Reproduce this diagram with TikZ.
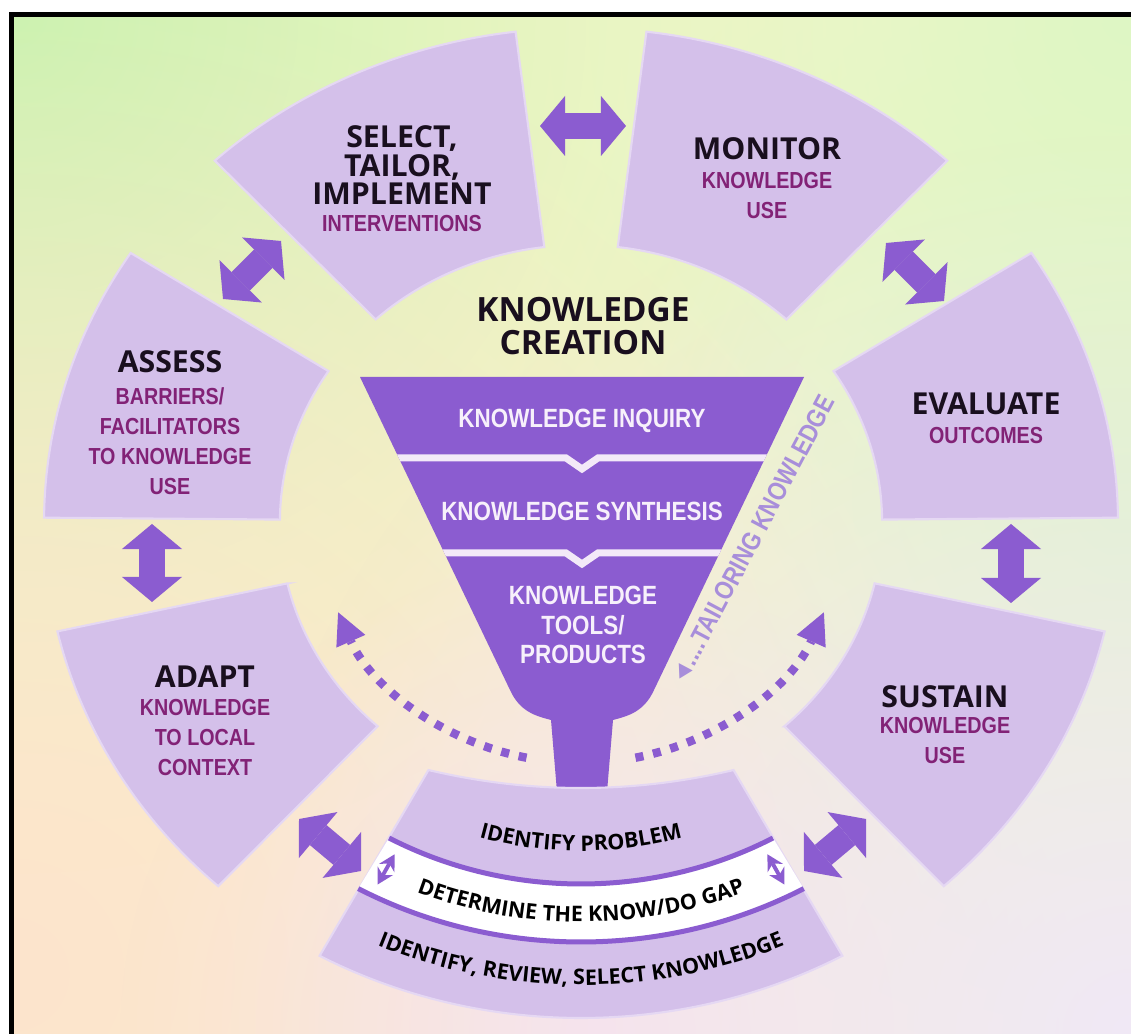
\documentclass[tikz,border=0pt]{standalone}
\usepackage{fontspec}
\setmainfont{Open Sans}
\newfontfamily\headfont{Open Sans}
\newfontfamily\narrowfont[FakeStretch=0.85]{Liberation Sans}
\usetikzlibrary{arrows.meta,decorations.text,fadings}
\definecolor{segfill}{RGB}{212,192,234}
\definecolor{segedge}{RGB}{229,216,243}
\definecolor{deeppurple}{RGB}{139,92,208}
\definecolor{subink}{RGB}{130,34,118}
\definecolor{titleink}{RGB}{25,15,30}
\definecolor{funnelink}{RGB}{247,240,251}
\definecolor{sepline}{RGB}{243,233,248}
\definecolor{tailorink}{RGB}{168,142,218}
\definecolor{bgcream}{RGB}{251,246,204}
\definecolor{bggreen}{RGB}{203,243,176}
\definecolor{bglime}{RGB}{222,247,196}
\definecolor{bgpeach}{RGB}{253,228,204}
\definecolor{bgpink}{RGB}{249,225,232}
\definecolor{bglilac}{RGB}{240,232,246}
\tikzfading[name=glow, inner color=transparent!0, outer color=transparent!100]
\newcommand{\ringkx}{1.087}
\newcommand{\bandfont}{\headfont\bfseries\fontsize{6.1}{7}\selectfont}
% one lavender piece of the ring: start angle, end angle, inner and outer radius
\newcommand{\ringsector}[4]{%
  \filldraw[seg] (#1:\ringkx*#3 and #3) -- (#1:\ringkx*#4 and #4)
    arc[start angle=#1, end angle=#2, x radius=\ringkx*#4, y radius=#4]
    -- (#2:\ringkx*#3 and #3)
    arc[start angle=#2, end angle=#1, x radius=\ringkx*#3, y radius=#3] -- cycle;}
\tikzset{
  seg/.style={fill=segfill, draw=segedge, line width=0.6pt},
  segtitle/.style={text=titleink, font=\headfont\bfseries\fontsize{8.6}{8.1}\selectfont,
    align=center, anchor=north, inner sep=0pt},
  segsub/.style={text=subink, font=\narrowfont\bfseries\fontsize{6.6}{8.5}\selectfont,
    align=center, anchor=north, inner sep=0pt},
  funneltxt/.style={text=funnelink, font=\narrowfont\bfseries\fontsize{7.5}{8.5}\selectfont,
    align=center, anchor=north, inner sep=0pt},
  blockarrow/.style={deeppurple, line width=0.26cm,
    {Triangle[length=0.25cm,width=0.6cm,line width=0pt]}-{Triangle[length=0.25cm,width=0.6cm,line width=0pt]}},
  dotarrow/.style={deeppurple, line width=2.4pt, dash pattern=on 2.3pt off 2.8pt,
    -{Triangle[length=9pt,width=9pt,line width=0pt]}},
  bandline/.style={deeppurple, line width=0.05cm},
  gaparrow/.style={deeppurple, line width=1.1pt,
    {Stealth[length=4.5pt,width=5pt,line width=0pt]}-{Stealth[length=4.5pt,width=5pt,line width=0pt]}},
  bandtext/.style={decorate, decoration={text along path, text align=center, text={#1}}}
}

\begin{document}
\begin{tikzpicture}[x=0.01cm, y=0.01cm]
\useasboundingbox (0,0) rectangle (1131,1034);

% soft wash behind everything
\begin{scope}
  \clip (12,0) rectangle (1131,1020);
  \fill[bgcream] (12,0) rectangle (1131,1020);
  \fill[bggreen, path fading=glow] (12,1020) circle (860);
  \fill[bglime, path fading=glow] (1131,540) circle (620);
  \fill[bglime, path fading=glow] (1131,1020) circle (640);
  \fill[bgpeach, path fading=glow] (12,60) circle (1000);
  \fill[bgpink, path fading=glow] (600,0) circle (480);
  \fill[bglilac, path fading=glow] (1131,0) circle (900);
\end{scope}
\draw[line width=0.055cm] (11.5,0) -- (11.5,1019.5) -- (1131,1019.5);

% RING: six pieces plus the wide one at the bottom
\begin{scope}[shift={(581,512)}]
  \ringsector{97}{133}{277}{494}
  \ringsector{47}{83}{277}{494}
  \ringsector{0.5}{33}{277}{494}
  \ringsector{147}{179.5}{277}{494}
  \ringsector{192.8}{227.5}{277}{494}
  \ringsector{-47.5}{-12.8}{277}{494}

  % dotted return arrows
  \coordinate (left-tail) at (258:\ringkx*241 and 241);
  \coordinate (right-tail) at (-78:\ringkx*241 and 241);
  \draw[dotarrow] (left-tail) arc[start angle=258, end angle=202, x radius=\ringkx*241, y radius=241];
  \draw[dotarrow] (right-tail) arc[start angle=-78, end angle=-22, x radius=\ringkx*241, y radius=241];
\end{scope}

% double arrows between the pieces
\coordinate (sm-a) at (540,908);  \coordinate (sm-b) at (626,908);
\coordinate (as-a) at (223,735);  \coordinate (as-b) at (281,793);
\coordinate (me-a) at (886,791);  \coordinate (me-b) at (944,733);
\coordinate (aa-a) at (152,510);  \coordinate (aa-b) at (152,432);
\coordinate (es-a) at (1011,510); \coordinate (es-b) at (1011,431);
\coordinate (ab-a) at (299,215);  \coordinate (ab-b) at (361,163);
\coordinate (bs-a) at (866,215);  \coordinate (bs-b) at (804,163);
\foreach \a in {sm,as,me,aa,es,ab,bs}
  \draw[blockarrow] (\a-a) -- (\a-b);

% FUNNEL
\coordinate (f-tl) at (360,657);
\coordinate (f-tr) at (804,657);
\coordinate (f-r) at (654,344);
\coordinate (f-sr) at (613,314);
\coordinate (f-br) at (607,242);
\coordinate (f-bl) at (557,242);
\coordinate (f-sl) at (551,314);
\coordinate (f-l) at (510,344);
\fill[deeppurple] (f-tl) -- (f-tr) -- (f-r) .. controls (644,322) and (628,318) .. (f-sr)
  -- (f-br) -- (f-bl) -- (f-sl) .. controls (536,318) and (520,322) .. (f-l) -- cycle;
\begin{scope}
  \clip (f-tl) -- (f-tr) -- (f-r) -- (f-l) -- cycle;
  \draw[sepline, line width=0.07cm] (340,576) -- (566,576) -- (582,565) -- (598,576) -- (820,576);
  \draw[sepline, line width=0.07cm] (340,481) -- (566,481) -- (582,470) -- (598,481) -- (820,481);
\end{scope}

% bottom piece with the know/do gap band
\begin{scope}[shift={(581,512)}]
  \filldraw[seg] (240.5:\ringkx*285 and 285) .. controls (-51,-272) and (51,-272) .. (299.5:\ringkx*285 and 285)
    -- (299:\ringkx*496 and 496) arc[start angle=299, end angle=241, x radius=\ringkx*496, y radius=496] -- cycle;
  \fill[white] (240.8:\ringkx*362 and 362) arc[start angle=240.8, end angle=299.2, x radius=\ringkx*362, y radius=362]
    -- (299.2:\ringkx*420 and 420) arc[start angle=299.2, end angle=240.8, x radius=\ringkx*420, y radius=420] -- cycle;
  \draw[bandline] (240.8:\ringkx*362 and 362) arc[start angle=240.8, end angle=299.2, x radius=\ringkx*362, y radius=362];
  \draw[bandline] (240.8:\ringkx*420 and 420) arc[start angle=240.8, end angle=299.2, x radius=\ringkx*420, y radius=420];
  \coordinate (gap-l1) at (242.7:\ringkx*374 and 374);
  \coordinate (gap-l2) at (242.7:\ringkx*408 and 408);
  \coordinate (gap-r1) at (297.3:\ringkx*374 and 374);
  \coordinate (gap-r2) at (297.3:\ringkx*408 and 408);
  \draw[gaparrow] (gap-l1) -- (gap-l2);
  \draw[gaparrow] (gap-r1) -- (gap-r2);
  \path[bandtext={|\bandfont|IDENTIFY PROBLEM}]
    (235:\ringkx*329 and 329) arc[start angle=235, end angle=305, x radius=\ringkx*329, y radius=329];
  \path[bandtext={|\bandfont|DETERMINE THE KNOW/DO GAP}]
    (236:\ringkx*400 and 400) arc[start angle=236, end angle=304, x radius=\ringkx*400, y radius=400];
  \path[bandtext={|\bandfont|IDENTIFY, REVIEW, SELECT KNOWLEDGE}]
    (236:\ringkx*463 and 463) arc[start angle=236, end angle=304, x radius=\ringkx*463, y radius=463];
\end{scope}

% labels of the pieces
\node[segtitle] (select) at (402,909) {SELECT,\\TAILOR,\\IMPLEMENT};
\node[segsub] (select-sub) at (402,819) {INTERVENTIONS};
\node[segtitle] (monitor) at (767,897) {MONITOR};
\node[segsub] (monitor-sub) at (767,862) {KNOWLEDGE\\USE};
\node[segtitle] (assess) at (170,684) {ASSESS};
\node[segsub] (assess-sub) at (170,647) {BARRIERS/\\FACILITATORS\\TO KNOWLEDGE\\USE};
\node[segtitle] (evaluate) at (986,642) {EVALUATE};
\node[segsub] (evaluate-sub) at (986,607) {OUTCOMES};
\node[segtitle] (adapt) at (205,369) {ADAPT};
\node[segsub] (adapt-sub) at (205,335) {KNOWLEDGE\\TO LOCAL\\CONTEXT};
\node[segtitle] (sustain) at (945,349) {SUSTAIN};
\node[segsub] (sustain-sub) at (945,317) {KNOWLEDGE\\USE};

% centre
\node[segtitle, font=\headfont\bfseries\fontsize{9.5}{9.4}\selectfont] (creation) at (583,737) {KNOWLEDGE\\CREATION};
\node[funneltxt] (inquiry) at (582,626) {KNOWLEDGE INQUIRY};
\node[funneltxt] (synthesis) at (582,533) {KNOWLEDGE SYNTHESIS};
\node[funneltxt] (tools) at (583,449) {KNOWLEDGE\\TOOLS/\\PRODUCTS};
\node[text=tailorink, font=\narrowfont\bfseries\fontsize{7.5}{8.5}\selectfont, rotate=62, inner sep=0pt]
  (tailoring) at (752,494) {◄....TAILORING KNOWLEDGE};
\end{tikzpicture}
\end{document}
